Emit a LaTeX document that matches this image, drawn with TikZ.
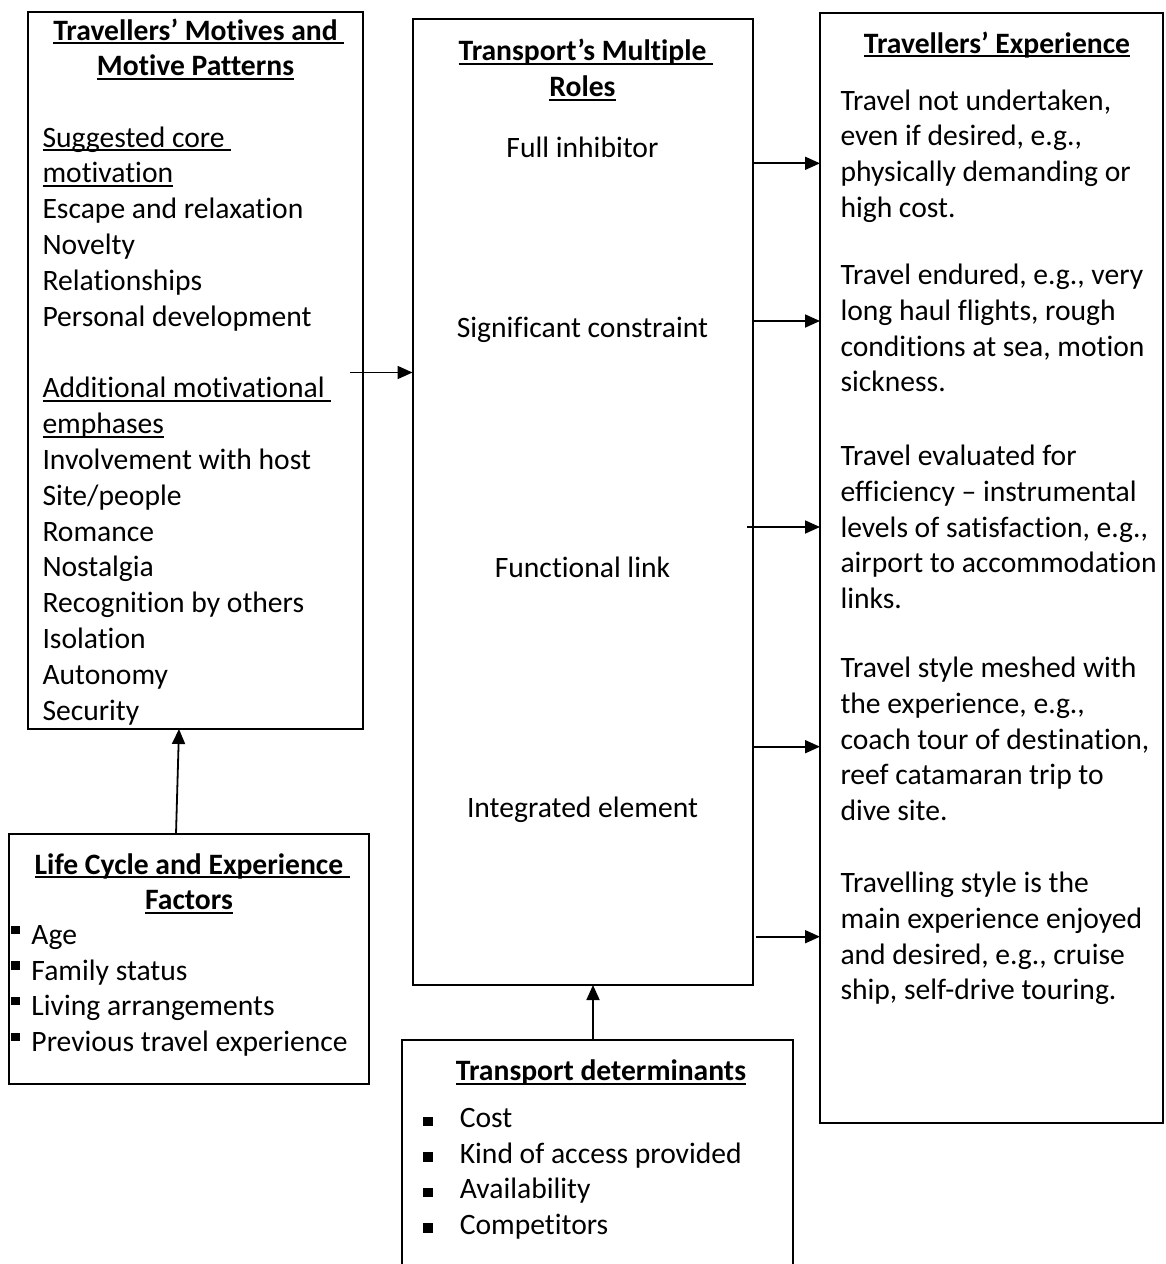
\documentclass[tikz,border=0pt]{standalone}
\usepackage{fontspec}
\setmainfont{Carlito}[Ligatures=NoCommon]
\usetikzlibrary{arrows.meta}
\newcommand\ulsp[1]{\setbox0\hbox{#1}\setbox2\hbox{#1\ }\rlap{\rule[-4pt]{\wd2}{2pt}}\box0}
\newcommand\ulno[1]{\setbox0\hbox{#1}\rlap{\rule[-4pt]{\wd0}{2pt}}\box0}
\newcommand\lbul{\makebox[20pt][l]{\rule[10.5pt]{8.5pt}{8.5pt}}}
\newcommand\dbul{\makebox[36.5pt][l]{\rule[1.5pt]{9.5pt}{9.5pt}}}
\tikzset{
 box/.style={draw, line width=2pt, inner sep=0pt, outer sep=0pt, anchor=north west},
 txt/.style={inner sep=0pt, outer sep=0pt, font=\fontsize{29.6}{35.8}\selectfont},
 ttl/.style={inner sep=0pt, outer sep=0pt, font=\fontsize{29.6}{35.8}\selectfont\bfseries, anchor=base},
 arr/.style={line width=1.8pt, -{Triangle[length=15pt,width=13pt]}}
}
\begin{document}
\begin{tikzpicture}[x=1pt,y=-1pt]
\useasboundingbox (0,0) rectangle (1165,1264);
\clip (0,0) rectangle (1165,1264);
% boxes
\node[box, minimum width=335pt, minimum height=717pt] (motives) at (28,12) {};
\node[box, minimum width=340pt, minimum height=966pt] (roles) at (412.5,19) {};
\node[box, minimum width=343pt, minimum height=1110pt] (exper) at (820,13) {};
\node[box, minimum width=360pt, minimum height=250pt] (life) at (9,834) {};
\node[box, minimum width=391pt, minimum height=260pt] (determ) at (402,1040) {};
% left box
\node[ttl] (mt1) at (195.5,40) {\ulsp{Travellers’ Motives and}};
\node[ttl] (mt2) at (195.5,75.5) {\ulno{Motive Patterns}};
\foreach \t [count=\i] in {{\ulsp{Suggested core}},{\ulno{motivation}},{Escape and relaxation},{Novelty},{Relationships},{Personal development}}
  \node[txt,anchor=base west] (ma\i) at (42.5,{147+(\i-1)*35.8}) {\t};
\foreach \t [count=\i] in {{\ulsp{Additional motivational}},{\ulno{emphases}},{Involvement with host},{Site/people},{Romance},{Nostalgia},{Recognition by others},{Isolation},{Autonomy},{Security}}
  \node[txt,anchor=base west] (mb\i) at (42.5,{397.8+(\i-1)*35.8}) {\t};
% middle box
\node[ttl] (rt1) at (582.5,60.5) {\ulsp{Transport’s Multiple}};
\node[ttl] (rt2) at (582.5,96.5) {\ulno{Roles}};
\node[txt,anchor=base] (r1) at (582.5,157) {Full inhibitor};
\node[txt,anchor=base] (r2) at (582.5,337) {Significant constraint};
\node[txt,anchor=base] (r3) at (582.5,577) {Functional link};
\node[txt,anchor=base] (r4) at (582.5,817) {Integrated element};
% right box
\node[ttl] (et) at (997,53) {\ulno{Travellers’ Experience}};
\foreach \t [count=\i] in {{Travel not undertaken,},{even if desired, e.g.,},{physically demanding or},{high cost.}}
  \node[txt,anchor=base west] (ea\i) at (840.5,{110+(\i-1)*35.8}) {\t};
\foreach \t [count=\i] in {{Travel endured, e.g., very},{long haul flights, rough},{conditions at sea, motion},{sickness.}}
  \node[txt,anchor=base west] (eb\i) at (840.5,{284.5+(\i-1)*35.8}) {\t};
\foreach \t [count=\i] in {{Travel evaluated for},{efficiency – instrumental},{levels of satisfaction, e.g.,},{airport to accommodation},{links.}}
  \node[txt,anchor=base west] (ec\i) at (840.5,{465.5+(\i-1)*35.8}) {\t};
\foreach \t [count=\i] in {{Travel style meshed with},{the experience, e.g.,},{coach tour of destination,},{reef catamaran trip to},{dive site.}}
  \node[txt,anchor=base west] (ed\i) at (840.5,{677.5+(\i-1)*35.8}) {\t};
\foreach \t [count=\i] in {{Travelling style is the},{main experience enjoyed},{and desired, e.g., cruise},{ship, self-drive touring.}}
  \node[txt,anchor=base west] (ee\i) at (840.5,{892.5+(\i-1)*35.8}) {\t};
% life cycle box
\node[ttl] (lt1) at (189,874) {\ulsp{Life Cycle and Experience}};
\node[ttl] (lt2) at (189,909.5) {\ulno{Factors}};
\foreach \t [count=\i] in {{Age},{Family status},{Living arrangements},{Previous travel experience}}
  \node[txt,anchor=base west] (la\i) at (11.5,{944.5+(\i-1)*35.7}) {\lbul\t};
% determinants box
\node[ttl] (dt) at (601,1080.5) {\ulno{Transport determinants}};
\foreach \t [count=\i] in {{Cost},{Kind of access provided},{Availability},{Competitors}}
  \node[txt,anchor=base west] (da\i) at (423.3,{1127.5+(\i-1)*35.6}) {\dbul\t};
% connectors
\coordinate (a0) at (350,372.5);
\draw[arr] (a0) -- (a0 -| roles.west);
\coordinate (s1) at (752.5,163.3);
\coordinate (s2) at (752.5,321);
\coordinate (s3) at (747,527);
\coordinate (s4) at (752.5,746.7);
\coordinate (s5) at (756,936.7);
\foreach \s in {s1,s2,s3,s4,s5}
  \draw[arr] (\s) -- (\s -| exper.west);
\coordinate (v1) at (176,834);
\coordinate (v1t) at (179,0);
\draw[arr] (v1) -- (v1t |- motives.south);
\coordinate (v2) at (593,1040);
\draw[arr] (v2) -- (v2 |- roles.south);
\end{tikzpicture}
\end{document}
